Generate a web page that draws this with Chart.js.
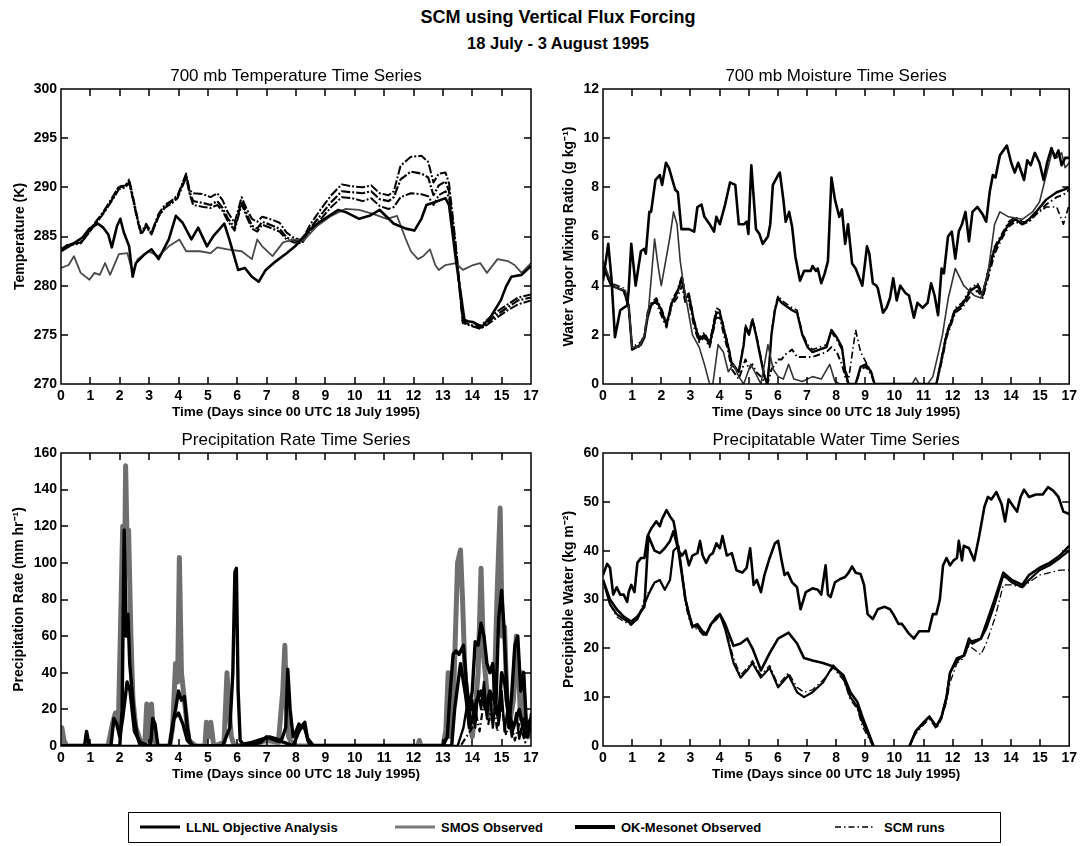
<!DOCTYPE html>
<html>
<head>
<meta charset="utf-8">
<script src="https://cdn.jsdelivr.net/npm/chart.js@4.4.1/dist/chart.umd.min.js"></script>
<style>
  html, body { margin: 0; padding: 0; background: #fff; }
  body { width: 1081px; height: 846px; position: relative; overflow: hidden;
         font-family: "Liberation Sans", Arial, Helvetica, sans-serif; color: #000; }
  canvas.panel { position: absolute; }
  .head { position: absolute; left: 258px; width: 600px; text-align: center; font-weight: bold; }
  #legendBox { position: absolute; left: 128px; top: 812px; width: 873px; height: 31px;
               border: 1px solid #000; box-sizing: border-box; }
  .lg-text { position: absolute; top: 820px; font-size: 13px; line-height: 15px; font-weight: bold; white-space: nowrap; }
  .lg-line { position: absolute; }
</style>
</head>
<body>
<div class="head" style="top:8px;font-size:18px;line-height:18px;">SCM using Vertical Flux Forcing</div>
<div class="head" style="top:34px;font-size:16.5px;line-height:18px;">18 July - 3 August 1995</div>

<canvas class="panel" id="cTemp" width="548" height="368" style="left:0px;top:58px;"></canvas>
<canvas class="panel" id="cMix" width="541" height="368" style="left:540px;top:58px;"></canvas>
<canvas class="panel" id="cPrecip" width="548" height="368" style="left:0px;top:422px;"></canvas>
<canvas class="panel" id="cPw" width="541" height="368" style="left:540px;top:422px;"></canvas>

<div id="legendBox"></div>
<svg class="lg-line" style="left:140px;top:824px" width="40" height="6"><line x1="0" y1="3" x2="40" y2="3" stroke="#000" stroke-width="3"/></svg>
<div class="lg-text" style="left:186px">LLNL Objective Analysis</div>
<svg class="lg-line" style="left:395px;top:824px" width="40" height="6"><line x1="0" y1="3" x2="40" y2="3" stroke="#7a7a7a" stroke-width="3"/></svg>
<div class="lg-text" style="left:441px">SMOS Observed</div>
<svg class="lg-line" style="left:575px;top:824px" width="40" height="6"><line x1="0" y1="3" x2="40" y2="3" stroke="#000" stroke-width="4"/></svg>
<div class="lg-text" style="left:621px">OK-Mesonet Observed</div>
<svg class="lg-line" style="left:835px;top:824px" width="40" height="6"><line x1="0" y1="3" x2="40" y2="3" stroke="#000" stroke-width="1.3" stroke-dasharray="6,3,1.5,3"/></svg>
<div class="lg-text" style="left:884px">SCM runs</div>

<script>
// ---------- axis labels ----------
const dayTickLabels = ['0','1','2','3','4','5','6','7','8','9','10','11','12','13','14','15','17'];
const timeAxisTitle = 'Time (Days since 00 UTC 18 July 1995)';

// ---------- 700 mb temperature (K) ----------
const tempLlnlDays = [0,0.38,0.73,0.97,1.26,1.44,1.61,1.73,1.91,2.02,2.14,2.32,2.44,2.55,2.85,3.08,3.32,3.67,3.91,4.14,4.44,4.67,4.97,5.2,5.56,5.73,6.03,6.26,6.5,6.73,6.97,7.32,7.68,7.97,8.5,8.97,9.44,9.68,10.15,10.5,10.85,11.33,11.74,12.03,12.27,12.44,12.74,13.09,13.21,13.44,13.74,14.03,14.33,14.62,14.97,15.15,15.33,15.68,16];
const tempLlnl = [283.5,284.2,284.9,285.8,286.3,285.9,285.2,283.9,286.1,286.8,285.4,284.0,280.9,282.3,283.2,283.7,282.7,284.7,287.1,286.4,284.7,285.9,284.0,285.1,286.3,284.7,281.6,281.8,280.9,280.4,281.6,282.5,283.3,284.0,285.8,286.8,287.7,287.5,286.8,287.1,287.7,286.3,285.8,285.6,286.8,288.2,288.5,288.9,288.2,282.7,276.4,276.3,275.8,276.8,278.5,279.9,280.9,281.1,282.0];
const tempSmosDays = [0,0.26,0.44,0.67,0.97,1.14,1.32,1.5,1.67,1.97,2.26,2.44,2.61,2.97,3.32,3.67,4.03,4.26,4.73,5.09,5.32,5.67,6.15,6.5,6.68,6.85,7.2,7.56,7.91,8.26,8.73,9.2,9.68,10.15,10.62,11.09,11.44,11.74,11.91,12.15,12.33,12.56,12.74,12.86,13.09,13.44,13.68,14.03,14.27,14.5,14.86,15.21,15.44,15.68,16];
const tempSmos = [281.8,282.1,283.0,281.3,280.6,281.3,281.1,282.3,281.1,283.2,283.3,281.3,282.7,283.5,283.0,284.0,284.7,283.5,283.5,283.3,283.9,283.7,283.5,282.7,284.7,284.0,283.0,284.4,284.7,284.6,286.1,287.1,287.8,287.7,287.3,286.8,287.1,284.7,283.5,282.7,283.0,283.7,282.1,281.6,282.1,282.3,281.6,282.1,282.3,281.3,282.7,282.5,282.1,281.3,282.3];
const tempScmDays = [0,0.26,0.67,0.85,1.08,1.44,1.79,1.97,2.2,2.32,2.44,2.61,2.73,2.9,3.08,3.32,3.53,3.79,3.97,4.09,4.26,4.38,4.5,4.85,5.09,5.32,5.5,5.67,5.91,6.15,6.32,6.5,6.68,6.85,7.2,7.44,7.68,7.91,8.2,8.5,8.85,9.2,9.56,9.91,10.27,10.56,10.85,11.15,11.33,11.56,11.91,12.27,12.5,12.68,12.86,13.09,13.21,13.44,13.68,13.97,14.27,14.5,14.86,15.21,15.56,16];
const tempScmRun1 = [283.7,284.2,284.4,285.1,286.1,287.5,289.2,290.1,290.2,290.8,289.2,286.8,285.4,286.3,285.4,287.3,288.2,288.7,289.2,290.1,291.4,289.7,289.4,289.3,289.0,289.4,288.7,287.5,286.4,289.0,287.8,286.8,286.5,287.0,286.7,286.4,285.4,284.9,284.6,286.3,287.8,289.2,290.3,290.1,290.0,290.2,289.4,289.2,289.6,292.2,293.1,293.2,292.6,290.5,291.4,291.5,290.4,284.2,276.6,276.3,275.9,276.5,277.4,278.1,278.8,279.1];
const tempScmRun2 = [283.7,284.2,284.4,285.0,286.0,287.4,289.0,290.0,290.1,290.6,289.0,286.7,285.3,286.1,285.3,287.1,288.0,288.6,289.1,290.0,291.2,289.5,288.6,288.4,288.2,288.6,287.9,286.9,285.9,288.6,287.3,286.1,285.8,286.5,286.1,285.8,284.9,284.6,284.5,285.9,287.2,288.5,289.6,289.5,289.4,289.6,288.8,288.6,289.0,290.8,291.6,291.4,291.0,289.2,290.2,290.6,289.6,283.8,276.3,276.0,275.7,276.2,277.1,277.8,278.5,278.8];
const tempScmRun3 = [283.7,284.1,284.3,285.0,285.9,287.3,288.9,289.8,290.0,290.5,288.9,286.5,285.2,286.0,285.2,287.0,287.9,288.4,288.9,289.8,291.0,289.3,288.2,288.0,287.9,288.2,287.6,286.6,285.6,288.3,287.0,285.8,285.5,286.2,285.8,285.5,284.7,284.4,284.3,285.6,286.8,288.0,289.0,288.9,288.6,288.9,288.1,287.8,288.0,289.0,289.4,289.3,289.1,288.2,289.2,289.6,289.0,283.4,276.2,275.9,275.6,276.0,276.8,277.5,278.1,278.5];

// ---------- 700 mb water vapour mixing ratio (g/kg) ----------
const mixLlnlDays = [0,0.18,0.29,0.41,0.59,0.83,0.88,0.97,1.12,1.30,1.42,1.47,1.59,1.65,1.80,1.95,2.03,2.16,2.26,2.48,2.57,2.69,2.95,3.13,3.24,3.38,3.48,3.66,3.81,3.89,4.01,4.19,4.36,4.54,4.66,4.83,4.93,4.99,5.09,5.25,5.37,5.48,5.66,5.74,5.83,6.01,6.07,6.19,6.27,6.39,6.49,6.60,6.76,6.90,7.13,7.19,7.31,7.37,7.49,7.61,7.72,7.84,7.96,8.11,8.20,8.31,8.41,8.55,8.67,8.90,9.06,9.14,9.26,9.38,9.43,9.61,9.73,9.85,9.96,10.08,10.20,10.38,10.50,10.67,10.79,10.97,11.14,11.26,11.38,11.50,11.62,11.70,11.84,11.97,12.09,12.21,12.32,12.44,12.56,12.68,12.85,13.03,13.15,13.27,13.38,13.47,13.62,13.74,13.86,14.01,14.13,14.25,14.45,14.56,14.68,14.82,14.98,15.12,15.24,15.39,15.51,15.63,15.74,15.86,16];
const mixLlnl = [4.2,5.7,4.3,1.9,3.0,3.2,3.8,5.7,4.0,5.4,5.5,5.3,7.0,7.0,8.3,8.5,8.1,9.0,8.8,7.9,7.8,6.3,6.3,6.2,7.2,7.3,6.8,6.5,6.2,6.8,6.5,7.3,8.2,8.1,6.5,6.5,6.6,6.1,8.9,6.3,6.1,5.7,6.0,6.5,8.1,8.5,8.6,7.5,6.6,7.0,6.4,5.2,4.2,4.6,4.6,4.8,4.6,4.7,4.1,4.5,5.0,8.4,7.5,6.8,7.1,5.7,6.5,4.9,4.7,4.0,5.6,5.3,4.1,4.0,3.9,2.9,3.1,3.5,4.3,3.4,4.0,3.7,3.6,2.7,3.3,3.1,3.3,4.1,3.6,2.8,4.7,4.5,6.0,6.2,5.1,6.2,6.5,7.0,5.8,7.0,7.2,6.9,6.6,7.8,8.5,8.4,9.3,9.5,9.7,9.0,8.6,9.0,8.3,9.1,8.9,9.4,9.0,8.3,9.0,9.6,9.2,9.5,8.9,9.2,9.2];
const mixSmosDays = [0,0.29,0.47,0.77,0.88,1.00,1.24,1.42,1.56,1.67,1.77,1.89,2.00,2.15,2.30,2.42,2.54,2.65,2.77,2.92,3.07,3.30,3.48,3.66,3.77,3.95,4.13,4.30,4.48,4.66,4.83,5.07,5.25,5.42,5.66,5.84,6.01,6.19,6.37,6.55,6.84,7.19,7.49,7.78,7.96,8.14,10.61,10.73,10.85,11.14,11.32,11.46,11.65,11.85,12.09,12.38,12.74,12.97,13.21,13.44,13.62,13.92,14.39,14.74,14.98,15.21,15.42,15.57,15.74,15.86,16];
const mixSmos = [5.0,4.1,3.9,3.8,3.2,1.5,1.5,2.0,3.0,4.5,5.9,4.8,4.0,5.0,6.0,7.0,6.5,5.0,4.0,3.0,2.0,1.5,0.8,0,0,1.6,1.3,0.5,0.8,0.3,0,0.8,0.4,0,1.6,0.6,0.3,0.2,0.8,0.2,0.1,0.3,0.2,0.8,0.1,0,0,0.25,0,0,0.3,1.0,2.0,3.5,4.7,4.0,3.6,3.5,4.5,6.5,7.0,6.8,6.7,7.0,7.4,8.5,9.5,9.2,9.4,8.8,9.0];
const mixScmDays = [0,0.29,0.71,0.88,1.00,1.30,1.42,1.53,1.65,1.83,2.00,2.18,2.36,2.54,2.71,2.83,2.95,3.13,3.30,3.48,3.66,3.89,4.01,4.19,4.30,4.42,4.66,4.83,4.89,5.01,5.13,5.25,5.42,5.54,5.64,5.72,5.78,5.90,6.01,6.13,6.25,6.49,6.66,6.84,7.02,7.19,7.43,7.67,7.84,8.02,8.20,8.31,8.43,8.67,8.84,9.02,9.20,9.32,11.44,11.62,11.79,12.09,12.32,12.62,12.85,13.03,13.21,13.44,13.68,13.92,14.15,14.39,14.62,14.86,15.21,15.57,15.80,16];
const mixScmRun1 = [4.8,4.0,3.8,3.2,1.4,1.6,1.9,2.7,3.2,3.4,3.0,2.4,3.3,3.7,4.3,3.5,3.6,2.5,1.8,2.0,1.6,2.9,2.9,2.0,1.5,0.8,0.5,1.6,2.3,2.0,2.6,2.0,1.0,0.3,0,1.0,2.0,3.0,3.5,3.3,3.2,3.0,2.9,2.0,1.5,1.3,1.4,1.5,2.2,1.9,1.5,0.5,0,0,0.7,0.8,0.5,0,0,1.0,2.0,3.0,3.2,3.8,4.0,3.6,4.5,5.5,6.0,6.5,6.7,6.5,6.7,7.0,7.5,7.8,7.9,8.0];
const mixScmRun2 = [4.7,4.0,3.8,3.1,1.5,1.7,2.0,2.9,3.3,3.3,2.8,2.3,3.2,3.5,4.0,3.3,3.4,2.3,1.7,1.9,1.5,2.7,2.7,1.8,1.3,0.6,0.2,0.8,1.0,0.6,0.8,0.5,0.3,0.1,0,0.3,0.6,0.8,1.0,1.0,1.2,1.4,1.1,1.1,1.1,1.1,1.2,1.3,1.5,1.3,0.8,0.3,0,0,0.6,0.7,0.4,0,0,0.9,1.9,2.9,3.1,3.6,3.8,3.5,4.3,5.3,5.9,6.4,6.6,6.5,6.6,6.9,7.3,7.6,7.7,7.9];
const mixScmRun3 = [4.8,4.1,3.9,3.3,1.4,1.6,1.9,2.8,3.3,3.5,3.1,2.5,3.4,3.8,4.4,3.6,3.7,2.6,1.9,2.1,1.7,3.1,3.0,2.1,1.6,0.9,0.5,1.7,2.4,2.1,2.7,2.1,1.1,0.4,0,1.1,2.1,3.1,3.6,3.4,3.3,3.1,3.0,2.1,1.6,1.4,1.5,1.6,2.1,1.8,1.4,0.6,0.2,2.2,1.3,0.9,0.5,0,0,1.1,2.1,3.1,3.3,3.9,4.1,3.7,4.6,5.6,6.1,6.6,6.8,6.6,6.6,6.9,7.2,7.2,6.5,7.3];

// ---------- precipitation rate (mm/hr) ----------
const precipSmosDays = [0,0.03,0.1,0.2,1.6,1.75,1.85,1.95,2.02,2.1,2.16,2.2,2.25,2.3,2.38,2.45,2.55,2.7,2.85,2.92,3.0,3.08,3.15,3.25,3.7,3.8,3.9,3.97,4.03,4.1,4.2,4.35,4.6,4.9,4.95,5.02,5.1,5.2,5.55,5.65,5.72,5.8,5.9,6.5,7.0,7.4,7.55,7.62,7.68,7.75,7.9,12.15,12.2,12.25,13.0,13.1,13.18,13.25,13.35,13.5,13.6,13.67,13.75,13.85,14.0,14.1,14.2,14.3,14.38,14.5,14.6,14.75,14.85,14.95,15.02,15.1,15.18,15.3,15.4,15.5,15.57,15.65,15.72,15.8,15.9,16];
const precipSmos = [0,10,3,0,0,12,18,10,60,120,90,153,110,118,60,25,10,3,0,23,3,23,5,0,0,10,45,35,103,40,25,3,0,0,13,5,13,0,2,40,20,5,0,1,3,2,30,55,20,5,0,0,3,0,0,8,40,5,20,100,107,80,40,20,5,20,40,97,50,30,15,30,85,130,60,65,25,15,25,60,40,15,40,10,5,15];
const precipLlnlDays = [0,0.8,0.87,0.95,1.0,2.0,2.08,2.15,2.22,2.28,2.34,2.42,2.5,2.6,2.7,3.05,3.12,3.2,3.3,3.7,3.8,3.9,4.0,4.1,4.2,4.3,4.4,4.5,5.5,5.75,5.85,5.92,5.97,6.03,6.1,6.2,6.5,6.9,7.1,7.3,7.5,7.65,7.72,7.8,7.9,8.0,8.1,8.2,8.3,8.4,8.5,13.0,13.15,13.25,13.35,13.45,13.55,13.7,13.8,13.9,14.0,14.1,14.2,14.3,14.4,14.5,14.6,14.7,14.8,14.9,15.0,15.08,15.15,15.25,15.35,15.45,15.55,15.65,15.75,15.85,16];
const precipLlnl = [0,0,8,1,0,0,20,118,60,72,45,30,15,5,0,0,15,12,0,0,12,20,30,25,27,10,2,0,0,10,40,95,97,30,3,1,2,4,5,4,3,10,42,20,5,8,12,10,13,3,0,0,5,30,50,52,50,55,35,20,30,57,55,67,60,45,40,45,20,70,85,65,40,10,30,55,60,30,40,10,15];
const precipMesoDays = [0,1.7,1.8,1.9,2.0,2.1,2.25,2.35,2.5,2.7,3.0,3.7,3.85,4.0,4.15,4.3,4.5,6.3,6.8,7.0,7.3,7.6,7.9,8.1,8.25,8.4,8.6,13.3,13.4,13.6,13.8,13.9,14.0,14.15,14.3,14.45,14.6,14.75,14.9,15.0,15.1,15.2,15.4,15.6,15.8,16];
const precipMeso = [0,0,15,12,5,15,35,30,8,2,0,0,15,18,12,3,0,0,2,5,3,2,0,8,12,4,0,0,20,45,25,10,15,25,30,20,30,25,15,40,35,20,10,20,5,10];
const precipScm1Days = [0,13.5,13.7,13.8,13.9,14.0,14.1,14.2,14.3,14.4,14.5,14.6,14.7,14.8,14.9,15.0,15.1,15.2,15.35,15.5,15.6,15.75,15.9,16];
const precipScm1 = [0,0,10,20,15,25,10,30,20,35,15,30,10,25,12,30,8,20,5,18,4,15,5,18];
const precipScm2Days = [0,13.6,13.8,14.0,14.1,14.25,14.4,14.55,14.7,14.85,15.0,15.15,15.3,15.45,15.6,15.8,16];
const precipScm2 = [0,0,5,10,20,8,25,12,28,8,22,6,15,3,12,2,10];

// ---------- precipitable water (kg/m2) ----------
const pwLlnlDays = [0,0.14,0.24,0.35,0.47,0.59,0.71,0.83,0.88,0.97,1.08,1.18,1.30,1.42,1.53,1.65,1.83,1.95,2.03,2.18,2.30,2.42,2.50,2.59,2.71,2.83,2.95,3.07,3.24,3.33,3.42,3.54,3.66,3.77,3.89,4.01,4.10,4.25,4.42,4.58,4.78,4.93,5.05,5.17,5.28,5.42,5.54,5.72,5.90,6.01,6.13,6.23,6.34,6.49,6.66,6.78,6.96,7.19,7.37,7.49,7.64,7.72,7.81,7.96,8.14,8.31,8.43,8.55,8.67,8.84,8.96,9.08,9.26,9.43,9.67,9.85,9.96,10.14,10.26,10.38,10.50,10.67,10.85,11.03,11.18,11.32,11.44,11.56,11.67,11.79,11.91,12.03,12.15,12.21,12.32,12.38,12.56,12.74,12.91,13.09,13.21,13.33,13.50,13.68,13.80,13.92,14.09,14.21,14.33,14.45,14.62,14.86,15.09,15.27,15.45,15.63,15.80,16];
const pwLlnl = [35,37.3,36.5,31,32.5,31,31,29.5,31.5,33,31.5,37.5,38.5,38.5,43,44.5,46,45,46.5,48.3,47,46,43.5,40,39,40,37,39,39.5,42,39,37.5,39,39.5,41.5,40.5,43,39,39.5,36,35.5,36.5,40.5,33,34,31.5,35,38.5,41.5,42,38,35,35.5,33.5,32.5,28,31.5,32.3,32,31,37,31,30.5,33.5,34.2,34.6,35.5,36.8,35.5,35.2,33,27,26,28,28.5,28,27,25,25,24,23,22,23.5,23.5,23.5,27,27,30,37,38.5,37,38,38.5,42,38,41,40.5,38,43,49,51,50.5,52,49.5,46,50.5,49,48,51,52.5,51,51.5,51.5,53,52.3,51,48,47.5];
const pwScmDays = [0,0.24,0.47,0.71,0.97,1.18,1.42,1.56,1.77,1.95,2.12,2.30,2.42,2.59,2.83,2.95,3.07,3.24,3.42,3.54,3.71,3.89,4.01,4.19,4.48,4.72,4.95,5.13,5.42,5.72,6.01,6.37,6.66,6.90,7.19,7.55,7.90,8.25,8.49,8.73,8.90,9.35,10.45,10.73,11.03,11.20,11.44,11.62,11.79,11.91,12.15,12.38,12.56,12.68,12.97,13.15,13.44,13.74,14.03,14.39,14.62,14.98,15.33,15.68,16];
const pwScmRun1 = [34,30,28,26.5,25.5,26.5,28.5,43,40,39.5,40.5,42,44,40,30,27,24.5,24.5,23,22.8,25,26,27,25,20.5,21,22,20,15.5,19,22,23.2,21,18,17.5,17,16.3,14.5,11,9,6,-1,-1,3,5,6,4,6,10,15,18,18.5,22,21,22,25,30,35.5,34,33,35,36.5,37.5,39,41];
const pwScmRun2 = [34,29,27,26,25,26,29,31,33.5,34,32,34,40,41,30,27,24.5,25,23.5,23,25,26.5,27,24,17,14,15.5,17,14,16,12,14.5,11,10,11,13,16.5,14,10,8,5,-1,-1,3,5,6,4,6,10,15,17.5,18.5,21,21.5,22,24,29,35,33.5,32.5,34,36,37,38.5,40];
const pwScmRun3 = [34,29,26.5,25.5,24.7,26,30,31.5,33.5,33.8,32,34,40,40.5,29,26,24,24,22.8,22.5,25,26.5,27,24.5,18,14.5,16,17.5,14.5,16.5,12.5,15,12,11,11.5,13.5,16,13.5,9.5,7.5,4,-1,-1,2.5,4.5,5.5,3.5,5.5,9,13,17,18,20.5,20,18.7,21,26,33,33,32.5,33.5,35,35.5,36,36];

// ---------- drawing ----------
const FONT = '"Liberation Sans", Arial, Helvetica, sans-serif';
Chart.defaults.font.family = FONT;
Chart.defaults.color = '#000';

function pairs(days, vals, name) {
  if (days.length !== vals.length) throw new Error(name + ': ' + days.length + ' days vs ' + vals.length + ' values');
  return days.map((d, i) => ({x: d, y: vals[i]}));
}

const STYLE = {
  llnl:  {borderColor: '#000', borderWidth: 2.6},
  smos:  {borderColor: '#4a4a4a', borderWidth: 2},
  meso:  {borderColor: '#000', borderWidth: 3},
  scm:   {borderColor: '#000', borderWidth: 1.6, borderDash: [7, 3, 1.5, 3]}
};

function series(label, days, vals, style, extra) {
  return Object.assign({
    label, data: pairs(days, vals, label), pointRadius: 0, tension: 0,
    borderJoinStyle: 'round', fill: false
  }, style, extra || {});
}

// frame and inward tick marks on all four sides
const frameTicks = {
  id: 'frameTicks',
  afterDatasetsDraw(chart) {
    const {ctx, chartArea: a, scales: {x, y}} = chart;
    const len = 7;
    ctx.save();
    ctx.strokeStyle = '#000';
    ctx.lineWidth = 1.5;
    ctx.strokeRect(a.left, a.top, a.right - a.left, a.bottom - a.top);
    ctx.beginPath();
    x.ticks.forEach(t => {
      const px = Math.round(x.getPixelForValue(t.value));
      if (px <= a.left + 1 || px >= a.right - 1) return;
      ctx.moveTo(px, a.bottom); ctx.lineTo(px, a.bottom - len);
      ctx.moveTo(px, a.top); ctx.lineTo(px, a.top + len);
    });
    y.ticks.forEach(t => {
      const py = Math.round(y.getPixelForValue(t.value));
      if (py <= a.top + 1 || py >= a.bottom - 1) return;
      ctx.moveTo(a.left, py); ctx.lineTo(a.left + len, py);
      ctx.moveTo(a.right, py); ctx.lineTo(a.right - len, py);
    });
    ctx.stroke();
    ctx.restore();
  }
};

function makePanel(id, opts) {
  new Chart(document.getElementById(id), {
    type: 'line',
    data: {datasets: opts.datasets},
    plugins: [frameTicks],
    options: {
      responsive: false, animation: false, devicePixelRatio: 1, events: [],
      layout: {padding: {left: 0, top: 0, right: opts.padRight, bottom: opts.padBottom}},
      plugins: {
        legend: {display: false},
        tooltip: {enabled: false},
        title: {display: true, text: opts.title, fullSize: false, color: '#000',
                font: {family: FONT, size: 17, weight: 'normal'}, padding: {top: 8.6, bottom: 2}}
      },
      scales: {
        x: {
          type: 'linear', min: 0, max: 16,
          grid: {display: false, drawTicks: false}, border: {display: false},
          ticks: {stepSize: 1, maxTicksLimit: 30, autoSkip: false, maxRotation: 0, minRotation: 0,
                  padding: 4, color: '#000', font: {family: FONT, size: 14, weight: 'bold'},
                  callback: v => dayTickLabels[v]},
          title: {display: true, text: timeAxisTitle, color: '#000',
                  font: {family: FONT, size: 13.5, weight: 'bold'}, padding: {top: 0, bottom: 5.6}},
          afterFit: s => { s.height = 42; }
        },
        y: {
          type: 'linear', min: opts.yMin, max: opts.yMax,
          grid: {display: false, drawTicks: false}, border: {display: false},
          ticks: {stepSize: opts.yStep, padding: 4, color: '#000', font: {family: FONT, size: 14, weight: 'bold'}},
          title: {display: true, text: opts.yTitle, color: '#000',
                  font: {family: FONT, size: 14, weight: 'bold'}, padding: {top: opts.yTitlePad, bottom: 0}},
          afterFit: s => { s.width = opts.yWidth; }
        }
      }
    }
  });
}

makePanel('cTemp', {
  title: '700 mb Temperature Time Series', yTitle: 'Temperature (K)',
  yMin: 270, yMax: 300, yStep: 5, yWidth: 61, yTitlePad: 11.6, padRight: 17, padBottom: 0,
  datasets: [
    series('LLNL Objective Analysis', tempLlnlDays, tempLlnl, STYLE.llnl),
    series('SMOS Observed', tempSmosDays, tempSmos, STYLE.smos, {borderWidth: 1.8}),
    series('SCM run 1', tempScmDays, tempScmRun1, STYLE.scm, {borderWidth: 2, borderDash: [9, 2, 2, 2], borderDashOffset: 0}),
    series('SCM run 2', tempScmDays, tempScmRun2, STYLE.scm, {borderWidth: 2.2, borderDash: [9, 2, 2, 2], borderDashOffset: 5}),
    series('SCM run 3', tempScmDays, tempScmRun3, STYLE.scm, {borderWidth: 2, borderDash: [9, 2, 2, 2], borderDashOffset: 10})
  ]
});

makePanel('cMix', {
  title: '700 mb Moisture Time Series', yTitle: 'Water Vapor Mixing Ratio (g kg\u207B\u00B9)',
  yMin: 0, yMax: 12, yStep: 2, yWidth: 63, yTitlePad: 20.6, padRight: 9, padBottom: 0,
  datasets: [
    series('LLNL Objective Analysis', mixLlnlDays, mixLlnl, STYLE.llnl),
    series('SMOS Observed', mixSmosDays, mixSmos, STYLE.smos, {borderWidth: 1.6, borderColor: '#333'}),
    series('SCM run 1', mixScmDays, mixScmRun1, STYLE.scm, {borderWidth: 2.4, borderDash: []}),
    series('SCM run 2', mixScmDays, mixScmRun2, STYLE.scm, {borderWidth: 2, borderDashOffset: 4}),
    series('SCM run 3', mixScmDays, mixScmRun3, STYLE.scm, {borderDashOffset: 8})
  ]
});

makePanel('cPrecip', {
  title: 'Precipitation Rate Time Series', yTitle: 'Precipitation Rate (mm hr\u207B\u00B9)',
  yMin: 0, yMax: 160, yStep: 20, yWidth: 61, yTitlePad: 10.6, padRight: 17, padBottom: 2,
  datasets: [
    series('LLNL Objective Analysis', precipLlnlDays, precipLlnl, STYLE.llnl, {borderWidth: 3.4}),
    series('OK-Mesonet Observed', precipMesoDays, precipMeso, STYLE.meso, {borderWidth: 3.4}),
    series('SCM run 1', precipScm1Days, precipScm1, STYLE.scm, {borderWidth: 2.4, borderDash: []}),
    series('SCM run 2', precipScm2Days, precipScm2, STYLE.scm, {borderWidth: 2.2, borderDashOffset: 5}),
    series('SMOS Observed', precipSmosDays, precipSmos, STYLE.smos, {borderColor: '#6f6f6f', borderWidth: 5})
  ]
});

makePanel('cPw', {
  title: 'Precipitatable Water Time Series', yTitle: 'Precipitable Water (kg m\u207B\u00B2)',
  yMin: 0, yMax: 60, yStep: 10, yWidth: 63, yTitlePad: 20.6, padRight: 9, padBottom: 2,
  datasets: [
    series('LLNL Objective Analysis', pwLlnlDays, pwLlnl, STYLE.llnl),
    series('SCM run 1', pwScmDays, pwScmRun1, STYLE.scm, {borderWidth: 2.6, borderDash: []}),
    series('SCM run 2', pwScmDays, pwScmRun2, STYLE.scm, {borderWidth: 2.2, borderDash: []}),
    series('SCM run 3', pwScmDays, pwScmRun3, STYLE.scm, {borderWidth: 1.3, borderDashOffset: 4})
  ]
});
</script>
</body>
</html>
